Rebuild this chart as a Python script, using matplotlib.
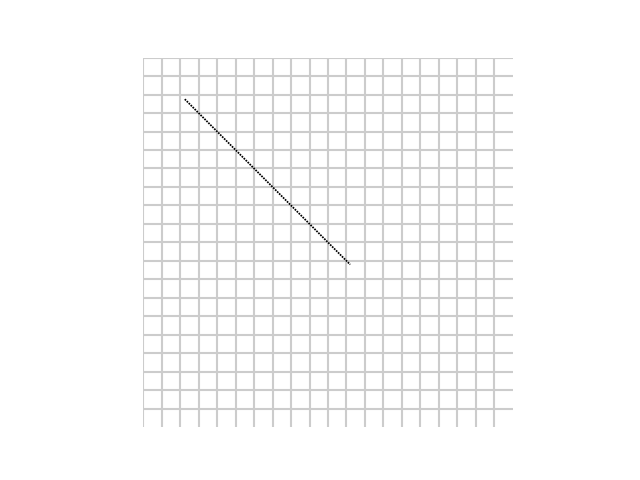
import numpy as np
import matplotlib
matplotlib.use('Agg')
import matplotlib.pyplot as plt

# grid of 20x20 cells, one diagonal segment
n_cells = 20
line_x = [2.25, 11.2]
line_y = [2.25, 11.2]

fig, ax = plt.subplots(figsize=(6.4, 4.8), dpi=100)
ax.set_xlim(0, n_cells)
ax.set_ylim(n_cells, 0)
ax.set_aspect('equal')

ticks = np.arange(n_cells)
ax.set_xticks(ticks)
ax.set_yticks(ticks)
ax.grid(True, color='#cccccc', lw=1.5)
ax.tick_params(length=0, labelbottom=False, labelleft=False)
for s in ax.spines.values():
    s.set_visible(False)

ax.plot(line_x, line_y, color='black', lw=1.25, linestyle=(0, (1, 0.6)))

plt.savefig('out.png', dpi=100)
